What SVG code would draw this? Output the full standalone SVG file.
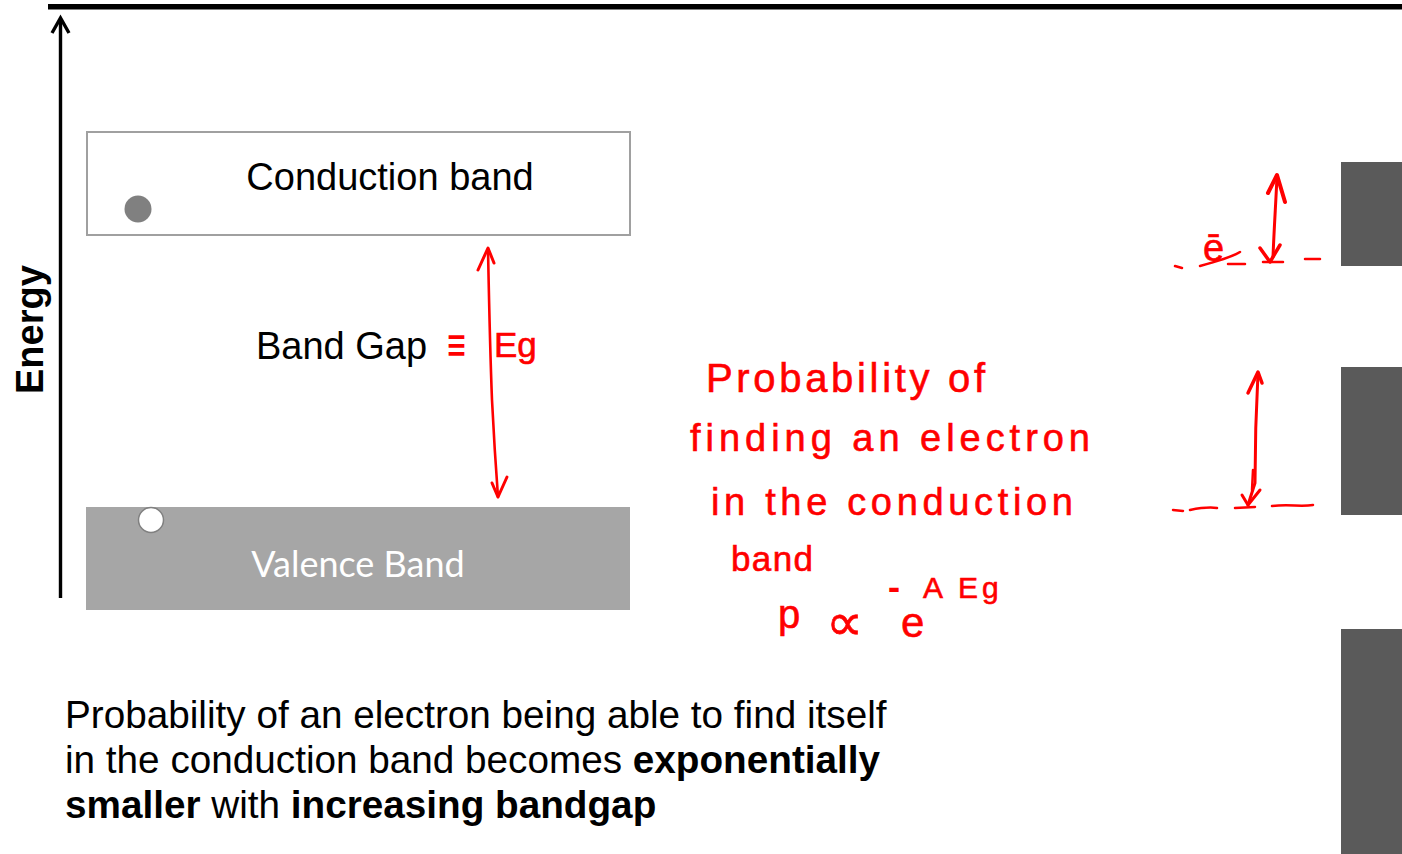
<svg xmlns="http://www.w3.org/2000/svg" width="1402" height="854" viewBox="0 0 1402 854">
<defs>
<style>
.sans{font-family:"Liberation Sans",Arial,sans-serif;fill:#000}
.hand{font-family:"Liberation Sans",Arial,sans-serif;fill:#ff0000;stroke:#ff0000;stroke-width:0.6}
.ink{fill:none;stroke:#ff0000;stroke-linecap:round;stroke-linejoin:round}
.bar{fill:#5a5a5a}
</style>
</defs>
<rect width="1402" height="854" fill="#ffffff"/>

<g id="axis">
<rect x="48" y="4" width="1354" height="5.5" fill="#000"/>
<line x1="60.5" y1="19" x2="60.5" y2="598" stroke="#000" stroke-width="3.4"/>
<polyline points="52,33 60.5,18 69,33" fill="none" stroke="#000" stroke-width="3.4" stroke-linejoin="miter"/>
<text class="sans" font-size="38" font-weight="bold" transform="translate(43,394) rotate(-90)">Energy</text>
</g>

<g id="conduction-band">
<rect x="87" y="132" width="543" height="103" fill="#ffffff" stroke="#a0a0a0" stroke-width="2"/>
<text class="sans" x="390" y="190" font-size="38" text-anchor="middle">Conduction band</text>
<circle cx="138" cy="209" r="13.5" fill="#808080"/>
</g>

<g id="valence-band">
<rect x="86" y="507" width="544" height="103" fill="#a6a6a6"/>
<text x="358" y="577" font-family="Lato,'Open Sans',sans-serif" font-size="36" fill="#ffffff" text-anchor="middle">Valence Band</text>
<circle cx="151" cy="520" r="12.5" fill="#ffffff" stroke="#808080" stroke-width="1.5"/>
</g>

<g id="band-gap-label">
<text class="sans" x="256" y="359" font-size="38">Band Gap</text>
<text x="446" y="360" font-family="'DejaVu Sans',sans-serif" font-size="46" fill="#ff0000" textLength="21" lengthAdjust="spacingAndGlyphs">≡</text>
<text class="hand" x="494" y="357" font-size="35">Eg</text>
</g>

<g id="connectors">
<path class="ink" stroke-width="2.6" d="M488,249 C489,300 490,350 492,400 C494,440 496,470 498,497"/>
<path class="ink" stroke-width="3" d="M478,270 L488,248 L494,263"/>
<path class="ink" stroke-width="3" d="M492,483 L498,497 L507,477"/>
<path class="ink" stroke-width="3" d="M1273,257 C1274,230 1276,200 1277,176"/>
<path class="ink" stroke-width="4" d="M1268,193 L1277,175 L1285,202"/>
<path class="ink" stroke-width="3.5" d="M1260,248 L1270,262 L1280,245"/>
<path class="ink" stroke-width="3" d="M1258,373 C1256,410 1255,450 1255,483 L1248,505"/>
<path class="ink" stroke-width="3.5" d="M1248,393 L1258,372 L1262,383"/>
<path class="ink" stroke-width="3" d="M1242,495 L1248,505 L1260,490"/>
<path class="ink" stroke-width="2.5" d="M1253,470 L1252,490"/>
</g>

<g id="annotation-levels">
<path class="ink" stroke-width="2.5" d="M1175,266 L1182,268 M1200,266 C1215,262 1230,258 1240,252 M1228,264 L1245,264 M1263,262 L1283,262 M1305,259 L1320,259"/>
<text class="hand" x="1203" y="261" font-size="38" font-family="'DejaVu Sans',sans-serif">ē</text>
<path class="ink" stroke-width="2.5" d="M1173,510 L1183,511 M1190,510 C1200,508 1210,507 1217,508 M1235,508 L1255,507 M1272,506 C1290,504 1300,507 1313,505"/>
</g>

<g id="handwritten-note">
<text class="hand" x="706" y="392" font-size="40" textLength="279" lengthAdjust="spacing">Probability of</text>
<text class="hand" x="690" y="451" font-size="38" textLength="400" lengthAdjust="spacing">finding an electron</text>
<text class="hand" x="711" y="515" font-size="38" textLength="362" lengthAdjust="spacing">in the conduction</text>
<text class="hand" x="731" y="571" font-size="35" textLength="82" lengthAdjust="spacing">band</text>
<text class="hand" x="778" y="628" font-size="40">p</text>
<text class="hand" x="826" y="640" font-size="52" font-family="'DejaVu Sans',sans-serif">∝</text>
<text class="hand" x="901" y="637" font-size="42">e</text>
<text class="hand" y="598" font-size="30"><tspan x="889" stroke-width="2">-</tspan><tspan x="923">A</tspan><tspan x="958" letter-spacing="4">Eg</tspan></text>
</g>

<g id="caption">
<text class="sans" x="65" y="728" font-size="38.7">Probability of an electron being able to find itself</text>
<text class="sans" x="65" y="773" font-size="38.7">in the conduction band becomes <tspan font-weight="bold">exponentially</tspan></text>
<text class="sans" x="65" y="818" font-size="38.7"><tspan font-weight="bold">smaller</tspan> with <tspan font-weight="bold">increasing bandgap</tspan></text>
</g>

<g id="side-bars">
<rect class="bar" x="1341" y="162" width="61" height="104"/>
<rect class="bar" x="1341" y="367" width="61" height="148"/>
<rect class="bar" x="1341" y="629" width="61" height="225"/>
</g>
</svg>
